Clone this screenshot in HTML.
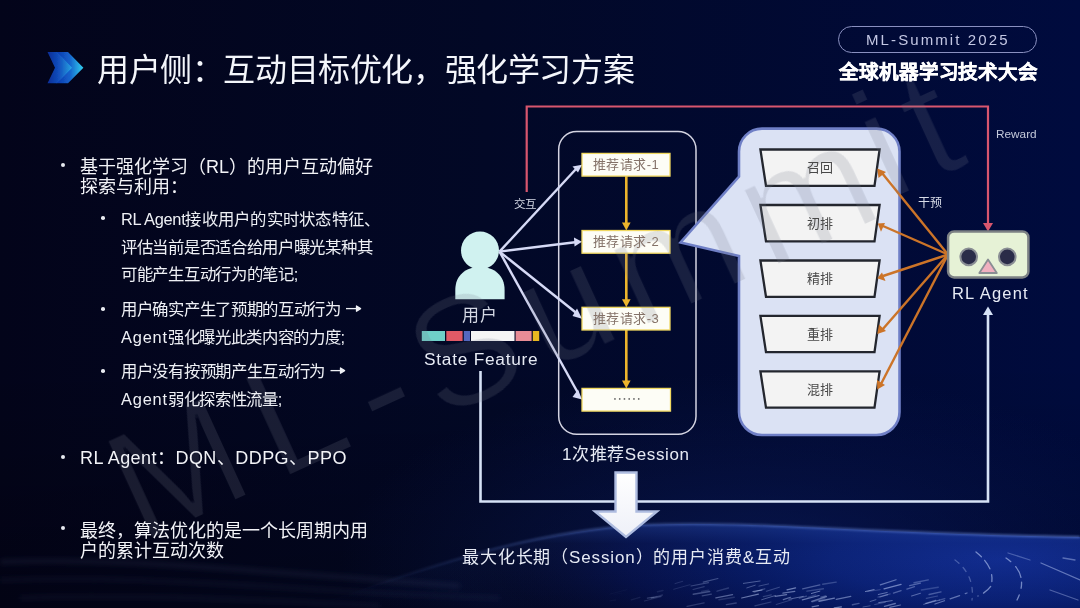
<!DOCTYPE html>
<html lang="zh-CN"><head><meta charset="utf-8">
<style>
*{margin:0;padding:0;box-sizing:border-box}
html,body{width:1080px;height:608px;overflow:hidden;background:#02041a}
body{position:relative;font-family:"Liberation Sans",sans-serif;color:#fff;-webkit-font-smoothing:antialiased}
.t{will-change:transform}
#bg{position:absolute;left:0;top:0}
.t{position:absolute;white-space:nowrap;line-height:1}
#title{left:96.5px;top:54.4px;font-size:32px;color:#f4f6fb;letter-spacing:-0.4px}
.b1{font-size:18px;color:#f2f3f7}
.b2{font-size:16.4px;color:#eef0f5;letter-spacing:-0.3px}
.dot{position:absolute;width:4px;height:4px;border-radius:50%;background:#e8eaf0}
#pill{position:absolute;left:838px;top:26px;width:199px;height:27px;border:1px solid #8a90c0;border-radius:14px}
#pilltxt{left:865.5px;top:32.4px;font-size:15px;color:#c4c8e4;letter-spacing:2.1px}
#conf{left:838.5px;top:62.6px;font-size:19.5px;font-weight:bold;color:#fff;letter-spacing:-0.1px;-webkit-text-stroke:0.45px #fff}
.dg{color:#e6eaf4}
</style></head>
<body>
<svg id="bg" width="1080" height="608" viewBox="0 0 1080 608">
<defs>
<linearGradient id="gH" x1="0" y1="0" x2="1" y2="0">
<stop offset="0" stop-color="#03041a"/>
<stop offset="0.45" stop-color="#020826"/>
<stop offset="1" stop-color="#000b3e"/>
</linearGradient>
<linearGradient id="gV" x1="0" y1="0" x2="0" y2="1">
<stop offset="0" stop-color="#000" stop-opacity="0"/>
<stop offset="0.6" stop-color="#000" stop-opacity="0"/>
<stop offset="1" stop-color="#000" stop-opacity="0.25"/>
</linearGradient>
<linearGradient id="gPlanetH" gradientUnits="userSpaceOnUse" x1="330" y1="0" x2="1080" y2="0">
<stop offset="0" stop-color="#061658" stop-opacity="0"/>
<stop offset="0.3" stop-color="#061858" stop-opacity="0.9"/>
<stop offset="0.63" stop-color="#061860"/>
<stop offset="1" stop-color="#0c2480"/>
</linearGradient>
<radialGradient id="gPlanetR" gradientUnits="userSpaceOnUse" cx="1000" cy="560" r="560" gradientTransform="translate(1000 560) scale(1 0.232) translate(-1000 -560)">
<stop offset="0" stop-color="#102a8c"/>
<stop offset="0.3" stop-color="#0a2074"/>
<stop offset="0.45" stop-color="#061860"/>
<stop offset="0.67" stop-color="#050f46" stop-opacity="0.9"/>
<stop offset="0.9" stop-color="#03061e" stop-opacity="0.3"/>
<stop offset="1" stop-color="#03061e" stop-opacity="0"/>
</radialGradient>
<linearGradient id="gPlanetV" gradientUnits="userSpaceOnUse" x1="0" y1="522" x2="0" y2="608">
<stop offset="0" stop-color="#3058c0" stop-opacity="0.4"/>
<stop offset="0.25" stop-color="#2a50b0" stop-opacity="0.08"/>
<stop offset="1" stop-color="#2a50b0" stop-opacity="0"/>
</linearGradient>
<radialGradient id="gGlow" gradientUnits="userSpaceOnUse" cx="760" cy="560" r="420" gradientTransform="translate(760 560) scale(1 0.45) translate(-760 -560)">
<stop offset="0" stop-color="#0c1f6a" stop-opacity="0.55"/>
<stop offset="0.6" stop-color="#0a1a5a" stop-opacity="0.25"/>
<stop offset="1" stop-color="#0a1a5a" stop-opacity="0"/>
</radialGradient>
<linearGradient id="gHz" gradientUnits="userSpaceOnUse" x1="360" y1="0" x2="1080" y2="0">
<stop offset="0" stop-color="#5a78c8" stop-opacity="0"/>
<stop offset="0.3" stop-color="#5a78c8" stop-opacity="0.5"/>
<stop offset="1" stop-color="#6a88d8" stop-opacity="0.7"/>
</linearGradient>
<filter id="blur3" x="-5%" y="-100%" width="110%" height="300%"><feGaussianBlur stdDeviation="2.5"/></filter>
<filter id="blur1" x="-5%" y="-50%" width="110%" height="200%"><feGaussianBlur stdDeviation="1.2"/></filter>
<linearGradient id="gChev1" gradientUnits="userSpaceOnUse" x1="46" y1="0" x2="72" y2="0">
<stop offset="0" stop-color="#0a2a9a"/>
<stop offset="0.5" stop-color="#1456cc"/>
<stop offset="1" stop-color="#2ab0f0"/>
</linearGradient>
<linearGradient id="gChev2" gradientUnits="userSpaceOnUse" x1="58" y1="0" x2="84" y2="0">
<stop offset="0" stop-color="#0e3cb0"/>
<stop offset="0.45" stop-color="#1462cc"/>
<stop offset="1" stop-color="#34d4f0"/>
</linearGradient>
<filter id="blurC" x="-20%" y="-20%" width="140%" height="140%"><feGaussianBlur stdDeviation="0.7"/></filter>
<linearGradient id="gArrow" x1="0" y1="0" x2="0" y2="1">
<stop offset="0" stop-color="#ffffff"/>
<stop offset="1" stop-color="#eef0f8"/>
</linearGradient>
</defs>
<rect width="1080" height="608" fill="url(#gH)"/>
<rect width="1080" height="608" fill="url(#gV)"/>
<rect width="1080" height="608" fill="url(#gGlow)"/>
<!-- planet horizon -->
<path d="M330,600 C430,566 540,531 640,525 C760,520 860,534 1080,537 L1080,608 L330,608 Z" fill="url(#gPlanetR)"/>
<path d="M330,600 C430,566 540,531 640,525 C760,520 860,534 1080,537 L1080,608 L330,608 Z" fill="url(#gPlanetV)"/>
<path d="M360,590 C450,560 540,531 640,525 C760,520 860,534 1080,537" fill="none" stroke="url(#gHz)" stroke-width="2" filter="url(#blur1)"/>
<g fill="none" stroke="#4a5682" filter="url(#blur3)">
<path d="M0,562 C90,558 190,566 300,574 C360,578 400,582 460,586" stroke-width="5" stroke-opacity="0.16"/>
<path d="M0,580 C120,576 220,584 330,590 C390,594 430,596 500,598" stroke-width="4" stroke-opacity="0.13"/>
<path d="M20,598 C140,594 260,600 380,606" stroke-width="4" stroke-opacity="0.13"/>
</g>
<g stroke="#c8d8ff" stroke-width="1.3" stroke-linecap="round" fill="none">
<path d="M811.8,601.3 l14.6,-4.6" stroke-opacity="0.46" stroke-width="1.4"/>
<path d="M609.9,594.1 l16.7,-4.3" stroke-opacity="0.03" stroke-width="1.0"/>
<path d="M726.4,604.6 l9.8,-1.6" stroke-opacity="0.24" stroke-width="1.4"/>
<path d="M673.7,589.3 l16.3,-4.6" stroke-opacity="0.13" stroke-width="1.0"/>
<path d="M647.2,598.1 l6.6,-0.9" stroke-opacity="0.16" stroke-width="1.0"/>
<path d="M863.0,607.0 l7.1,-1.2" stroke-opacity="0.31" stroke-width="1.0"/>
<path d="M783.3,599.6 l7.3,-2.3" stroke-opacity="0.44" stroke-width="1.2"/>
<path d="M701.6,591.4 l7.1,-1.2" stroke-opacity="0.15" stroke-width="1.2"/>
<path d="M877.9,597.2 l12.3,-3.3" stroke-opacity="0.22" stroke-width="1.2"/>
<path d="M878.3,594.5 l8.9,-2.0" stroke-opacity="0.45" stroke-width="1.0"/>
<path d="M687.1,606.4 l17.0,-3.5" stroke-opacity="0.20" stroke-width="1.4"/>
<path d="M867.8,591.5 l12.4,-1.8" stroke-opacity="0.22" stroke-width="1.0"/>
<path d="M812.1,606.8 l6.4,-1.2" stroke-opacity="0.49" stroke-width="1.2"/>
<path d="M717.1,591.2 l11.4,-3.2" stroke-opacity="0.19" stroke-width="1.4"/>
<path d="M865.5,591.5 l8.6,-1.9" stroke-opacity="0.54" stroke-width="1.0"/>
<path d="M715.9,597.9 l16.6,-3.3" stroke-opacity="0.40" stroke-width="1.4"/>
<path d="M631.3,599.8 l8.6,-2.5" stroke-opacity="0.09" stroke-width="1.4"/>
<path d="M834.3,607.9 l7.0,-1.0" stroke-opacity="0.55" stroke-width="1.4"/>
<path d="M914.0,582.8 l14.3,-2.9" stroke-opacity="0.29" stroke-width="1.4"/>
<path d="M743.4,583.4 l16.7,-2.4" stroke-opacity="0.36" stroke-width="1.0"/>
<path d="M644.4,601.0 l16.8,-4.3" stroke-opacity="0.14" stroke-width="1.0"/>
<path d="M657.4,591.7 l5.6,-1.2" stroke-opacity="0.10" stroke-width="1.4"/>
<path d="M889.8,607.4 l10.6,-2.4" stroke-opacity="0.46" stroke-width="1.2"/>
<path d="M693.2,594.2 l16.5,-2.7" stroke-opacity="0.30" stroke-width="1.4"/>
<path d="M926.3,598.3 l11.3,-2.3" stroke-opacity="0.23" stroke-width="1.2"/>
<path d="M775.2,596.3 l11.4,-1.7" stroke-opacity="0.48" stroke-width="1.2"/>
<path d="M836.2,599.3 l14.6,-3.0" stroke-opacity="0.45" stroke-width="1.2"/>
<path d="M884.0,588.9 l17.1,-4.6" stroke-opacity="0.53" stroke-width="1.2"/>
<path d="M820.9,597.1 l5.0,-1.2" stroke-opacity="0.29" stroke-width="1.4"/>
<path d="M693.1,589.5 l11.1,-2.9" stroke-opacity="0.20" stroke-width="1.2"/>
<path d="M819.0,601.2 l15.4,-3.1" stroke-opacity="0.50" stroke-width="1.4"/>
<path d="M752.9,591.5 l9.2,-1.5" stroke-opacity="0.54" stroke-width="1.0"/>
<path d="M884.5,606.4 l10.8,-2.9" stroke-opacity="0.45" stroke-width="1.4"/>
<path d="M741.7,598.0 l16.7,-3.9" stroke-opacity="0.50" stroke-width="1.2"/>
<path d="M812.1,602.1 l12.8,-3.5" stroke-opacity="0.21" stroke-width="1.0"/>
<path d="M799.4,598.2 l7.1,-2.0" stroke-opacity="0.26" stroke-width="1.4"/>
<path d="M614.2,594.3 l7.9,-1.2" stroke-opacity="0.02" stroke-width="1.2"/>
<path d="M929.1,594.5 l11.9,-2.6" stroke-opacity="0.32" stroke-width="1.4"/>
<path d="M808.0,597.3 l7.7,-2.4" stroke-opacity="0.20" stroke-width="1.2"/>
<path d="M923.7,604.3 l15.7,-4.2" stroke-opacity="0.39" stroke-width="1.0"/>
<path d="M787.0,589.8 l8.6,-2.0" stroke-opacity="0.53" stroke-width="1.2"/>
<path d="M925.8,603.3 l10.0,-2.9" stroke-opacity="0.42" stroke-width="1.2"/>
<path d="M758.9,586.1 l9.7,-2.2" stroke-opacity="0.27" stroke-width="1.0"/>
<path d="M806.9,591.1 l16.5,-2.3" stroke-opacity="0.24" stroke-width="1.4"/>
<path d="M911.6,596.0 l8.8,-2.7" stroke-opacity="0.40" stroke-width="1.2"/>
<path d="M746.8,587.9 l8.4,-2.7" stroke-opacity="0.33" stroke-width="1.0"/>
<path d="M802.6,588.8 l17.3,-4.0" stroke-opacity="0.35" stroke-width="1.2"/>
<path d="M921.4,590.0 l16.9,-2.8" stroke-opacity="0.21" stroke-width="1.4"/>
<path d="M811.4,593.5 l8.5,-2.4" stroke-opacity="0.49" stroke-width="1.0"/>
<path d="M763.3,596.6 l8.0,-1.8" stroke-opacity="0.21" stroke-width="1.2"/>
<path d="M691.0,586.0 l17.5,-3.4" stroke-opacity="0.25" stroke-width="1.2"/>
<path d="M776.2,604.5 l15.7,-4.8" stroke-opacity="0.21" stroke-width="1.0"/>
<path d="M702.2,595.9 l9.2,-1.8" stroke-opacity="0.26" stroke-width="1.2"/>
<path d="M718.9,599.7 l15.4,-2.5" stroke-opacity="0.16" stroke-width="1.4"/>
<path d="M754.9,605.8 l16.1,-3.8" stroke-opacity="0.21" stroke-width="1.2"/>
<path d="M802.3,599.9 l16.8,-4.4" stroke-opacity="0.50" stroke-width="1.2"/>
<path d="M761.7,599.7 l13.7,-4.2" stroke-opacity="0.36" stroke-width="1.0"/>
<path d="M703.2,582.1 l14.7,-3.6" stroke-opacity="0.29" stroke-width="1.2"/>
<path d="M909.6,585.7 l10.9,-2.6" stroke-opacity="0.37" stroke-width="1.2"/>
<path d="M782.9,593.1 l11.9,-1.8" stroke-opacity="0.46" stroke-width="1.2"/>
<path d="M878.7,602.6 l13.5,-2.0" stroke-opacity="0.45" stroke-width="1.0"/>
<path d="M939.4,600.2 l5.4,-1.6" stroke-opacity="0.28" stroke-width="1.4"/>
<path d="M880.3,584.9 l15.8,-5.1" stroke-opacity="0.45" stroke-width="1.2"/>
<path d="M650.9,597.9 l10.2,-1.7" stroke-opacity="0.14" stroke-width="1.0"/>
<path d="M788.9,599.2 l14.4,-2.8" stroke-opacity="0.40" stroke-width="1.0"/>
<path d="M852.4,604.8 l6.6,-1.4" stroke-opacity="0.31" stroke-width="1.4"/>
<path d="M766.4,591.2 l12.9,-4.0" stroke-opacity="0.25" stroke-width="1.2"/>
<path d="M651.4,598.4 l11.1,-3.4" stroke-opacity="0.14" stroke-width="1.4"/>
<path d="M675.0,583.6 l7.7,-2.3" stroke-opacity="0.15" stroke-width="1.0"/>
<path d="M874.7,604.5 l10.7,-2.2" stroke-opacity="0.25" stroke-width="1.0"/>
<path d="M822.7,584.2 l13.5,-2.1" stroke-opacity="0.24" stroke-width="1.4"/>
<path d="M754.2,592.1 l10.5,-3.3" stroke-opacity="0.24" stroke-width="1.4"/>
<path d="M610.0,600.9 l5.6,-0.9" stroke-opacity="0.04" stroke-width="1.4"/>
<path d="M870.1,601.5 l5.8,-1.8" stroke-opacity="0.37" stroke-width="1.0"/>
<path d="M647.5,598.2 l9.4,-1.7" stroke-opacity="0.10" stroke-width="1.4"/>
<path d="M976,552 Q996,568 991,586 Q987,592 978,596" stroke-opacity="0.55" stroke-dasharray="7 5 10 6"/>
<path d="M1006,558 Q1030,574 1017,600" stroke-opacity="0.55" stroke-dasharray="6 7 12 5"/>
<path d="M1041,563 L1080,580" stroke-opacity="0.45"/>
<path d="M1063,558 L1075,560" stroke-opacity="0.4"/>
<path d="M1008,553 L1030,560" stroke-opacity="0.3"/>
<path d="M935,604 L967,593" stroke-opacity="0.45" stroke-dasharray="10 6"/>
<path d="M880,597 L917,586" stroke-opacity="0.35" stroke-dasharray="8 6"/>
<path d="M955,560 Q975,575 972,600" stroke-opacity="0.3" stroke-dasharray="5 6"/>
<path d="M1050,590 L1078,600" stroke-opacity="0.35"/>
</g>
<!-- chevrons -->
<g filter="url(#blurC)"><path d="M56.5,52 L68,52 L83.4,67.7 L68,83.2 L56.5,83.2 L71,67.7 Z" fill="url(#gChev2)"/>
<path d="M47.5,52 L57,52 L72,67.7 L57,83.2 L47.5,83.2 L55,67.7 Z" fill="url(#gChev1)" fill-opacity="0.92"/></g>

<!-- red reward line -->
<path d="M526.7,192 V106.5 H988 V226" fill="none" stroke="#d8566e" stroke-width="2.2"/>
<path d="M983,223 L988,231.5 L993,223 Z" fill="#d8566e"/>

<!-- session rect -->
<rect x="558.7" y="131.5" width="137.3" height="302.7" rx="18" fill="none" stroke="#d4d4e2" stroke-width="1.5"/>

<!-- white lines from user -->
<g stroke="#d6daf6" stroke-width="2.4" fill="none">
<path d="M499.5,251.6 L576,169"/>
<path d="M499.5,251.6 L575,242.3"/>
<path d="M499.5,251.6 L577,313.5"/>
<path d="M499.5,251.6 L578,393"/>
</g>
<g fill="#d6daf6">
<path d="M582,164.8 L572.5,166.5 L578,172.5 Z"/>
<path d="M582,241.7 L574,237.5 L574.5,246.5 Z"/>
<path d="M582,318.7 L572.5,316 L577,308.5 Z" transform="rotate(0)"/>
<path d="M582,399.5 L572.5,397 L578,389.5 Z"/>
</g>

<!-- gold arrows -->
<g stroke="#ecb42c" stroke-width="2.6" fill="none">
<path d="M626.3,176.2 V224"/>
<path d="M626.3,253.2 V301"/>
<path d="M626.3,330 V382"/>
</g>
<g fill="#ecb42c">
<path d="M622,222.5 L626.3,230.5 L630.6,222.5 Z"/>
<path d="M622,299.3 L626.3,307.3 L630.6,299.3 Z"/>
<path d="M622,380.4 L626.3,388.4 L630.6,380.4 Z"/>
</g>

<!-- request boxes -->
<g fill="#fdfdf6" stroke="#f0d860" stroke-width="1.3">
<rect x="582" y="153.4" width="88" height="22.7"/>
<rect x="582" y="230.5" width="88" height="22.7"/>
<rect x="582" y="307.3" width="88" height="22.7"/>
<rect x="582" y="388.4" width="88.5" height="22.7"/>
</g>

<g><rect x="614.20" y="398.2" width="1.5" height="1.5" fill="#555"/><rect x="618.95" y="398.2" width="1.5" height="1.5" fill="#555"/><rect x="623.70" y="398.2" width="1.5" height="1.5" fill="#555"/><rect x="628.45" y="398.2" width="1.5" height="1.5" fill="#555"/><rect x="633.20" y="398.2" width="1.5" height="1.5" fill="#555"/><rect x="637.95" y="398.2" width="1.5" height="1.5" fill="#555"/></g>
<!-- callout -->
<path d="M762,128.6 H876.5 A23,23 0 0 1 899.5,151.6 V412 A23,23 0 0 1 876.5,435 H762 A23,23 0 0 1 739,412 V256 L680.5,242.4 L739,176.6 V151.6 A23,23 0 0 1 762,128.6 Z" fill="#dbe2f4" stroke="#6f7fc6" stroke-width="2.6"/>

<!-- trapezoids -->
<g fill="#f3f3f3" stroke="#23262e" stroke-width="2.3" stroke-linejoin="miter">
<path d="M760.4,149.5 H879.6 L874.5,185.8 H766 Z"/>
<path d="M760.4,205 H879.6 L874.5,241.3 H766 Z"/>
<path d="M760.4,260.5 H879.6 L874.5,296.8 H766 Z"/>
<path d="M760.4,315.9 H879.6 L874.5,352.2 H766 Z"/>
<path d="M760.4,371.3 H879.6 L874.5,407.6 H766 Z"/>
</g>

<!-- orange arrows -->
<g stroke="#cc7428" stroke-width="2.4" fill="none">
<path d="M948,254.5 L882,173"/>
<path d="M948,254.5 L883,226"/>
<path d="M948,254.5 L883,276"/>
<path d="M948,254.5 L882,330"/>
<path d="M948,254.5 L881,384"/>
</g>
<g fill="#cc7428">
<path d="M877.3,168.5 L878.5,178 L886,172 Z"/>
<path d="M877.8,223.6 L881,231.8 L885,223 Z"/>
<path d="M877.3,278.3 L885.5,281 L882,272.5 Z"/>
<path d="M877.3,334 L886,331 L879,324.5 Z"/>
<path d="M877.3,389.5 L885,385 L877,380 Z"/>
</g>

<!-- RL agent -->
<rect x="948.1" y="231.4" width="80.3" height="46" rx="6" fill="#e6f2d6" stroke="#7c8184" stroke-width="2.5"/>
<circle cx="968.7" cy="256.9" r="8.3" fill="#2a2c48" stroke="#8a8e94" stroke-width="2"/>
<circle cx="1007.3" cy="256.9" r="8.3" fill="#2a2c48" stroke="#8a8e94" stroke-width="2"/>
<path d="M979.3,273 L996.8,273 L988,259.5 Z" fill="#f0b0c0" stroke="#8a8e94" stroke-width="1.8" stroke-linejoin="round"/>

<!-- user icon -->
<path d="M455.3,299.3 L455.3,290 C455.3,275 466,267 480,267 C494,267 504.6,275 504.6,290 L504.6,299.3 Z" fill="#d0f2f0"/>
<circle cx="480" cy="250.5" r="19" fill="#d0f2f0"/>

<!-- color bar -->
<rect x="421.8" y="331" width="23.2" height="10" fill="#6fd0c8"/>
<rect x="446.3" y="331" width="16.3" height="10" fill="#e05a66"/>
<rect x="463.8" y="331" width="6.2" height="10" fill="#5468c0"/>
<rect x="471" y="331" width="43.5" height="10" fill="#f5f5f5"/>
<rect x="515.6" y="331" width="16" height="10" fill="#e88c96"/>
<rect x="532.8" y="331" width="6.4" height="10" fill="#e8b820"/>

<!-- bottom white loop -->
<path d="M480.5,371 V501.5 H988 V314" fill="none" stroke="#d6e2f6" stroke-width="2.6"/>
<path d="M983,315 L988,306.5 L993,315 Z" fill="#d6e2f6"/>

<!-- big arrow -->
<path d="M615.5,472.5 H636.5 V511.5 H657 L626,537 L595,511.5 H615.5 Z" fill="url(#gArrow)" stroke="#aebce0" stroke-width="2.4" stroke-linejoin="miter"/>
<!-- text arrows -->
<g stroke="#eef0f5" stroke-width="1.3" fill="#eef0f5" stroke-linejoin="round"><path d="M346,308.6 H358" fill="none"/><path d="M356.5,306 L360.6,308.6 L356.5,311.2 Z"/><path d="M330.5,370.6 H342" fill="none"/><path d="M340.5,368 L344.6,370.6 L340.5,373.2 Z"/></g>
</svg>

<svg id="wm" width="1080" height="608" style="position:absolute;left:0;top:0"><defs><filter id="thin"><feMorphology operator="erode" radius="1.3"/></filter></defs><g transform="translate(147.7,540.6) rotate(-24.63)" font-family="Liberation Sans" font-size="155.8" letter-spacing="13.76" fill="#74788e" fill-opacity="0.2" filter="url(#thin)"><text x="-8" y="0">M</text><text x="143.5" y="0">L<tspan dx="6" dy="12">-Summ</tspan><tspan dx="-6" dy="-12">it</tspan></text></g></svg>
<!-- Header -->
<div class="t" id="title">用户侧：互动目标优化，强化学习方案</div>
<div id="pill"></div>
<div class="t" id="pilltxt">ML-Summit 2025</div>
<div class="t" id="conf">全球机器学习技术大会</div>

<!-- Bullets -->
<div class="dot" style="left:60.6px;top:162.8px;width:4.5px;height:4.5px"></div>
<div class="t b1" style="left:80px;top:157.8px">基于强化学习（RL）的用户互动偏好</div>
<div class="t b1" style="left:80px;top:178px">探索与利用：</div>

<div class="dot" style="left:101.3px;top:216.2px;width:3.6px;height:3.6px"></div>
<div class="t b2" style="left:121px;top:211px">RL Agent<span style="letter-spacing:0.25px">接收用户的实时状态特征、</span></div>
<div class="t b2" style="left:121px;top:239px">评估当前是否适合给用户曝光某种其</div>
<div class="t b2" style="left:121px;top:266px">可能产生互动行为的笔记;</div>
<div class="dot" style="left:101.1px;top:307.4px;width:3.6px;height:3.6px"></div>
<div class="t b2" style="left:121px;top:301px">用户确实产生了预期的互动行为</div>
<div class="t b2" style="left:121px;top:328.5px"><span style="letter-spacing:0.8px">Agent</span>强化曝光此类内容的力度;</div>
<div class="dot" style="left:101.1px;top:369.2px;width:3.6px;height:3.6px"></div>
<div class="t b2" style="left:121px;top:363px">用户没有按预期产生互动行为</div>
<div class="t b2" style="left:121px;top:390.5px"><span style="letter-spacing:0.8px">Agent</span>弱化探索性流量;</div>

<div class="dot" style="left:60.8px;top:454.7px"></div>
<div class="t b1" style="left:80px;top:448.5px;letter-spacing:0.45px">RL Agent：DQN、DDPG、PPO</div>

<div class="dot" style="left:60.8px;top:525.5px"></div>
<div class="t b1" style="left:80px;top:521.5px">最终，算法优化的是一个长周期内用</div>
<div class="t b1" style="left:80px;top:541.5px">户的累计互动次数</div>

<!-- Diagram text -->
<div class="t" style="left:514px;top:198.5px;font-size:11.5px;color:#d8dce8;font-weight:300">交互</div>
<div class="t" style="left:995.5px;top:128.5px;font-size:11.8px;color:#c4cadb">Reward</div>
<div class="t" style="left:917.5px;top:196.5px;font-size:12px;color:#d8dce8;font-weight:300">干预</div>
<div class="t" style="left:593px;top:157.5px;font-size:13px;color:#847268;letter-spacing:0.45px;font-weight:300">推荐请求-1</div>
<div class="t" style="left:593px;top:234.5px;font-size:13px;color:#847268;letter-spacing:0.45px;font-weight:300">推荐请求-2</div>
<div class="t" style="left:593px;top:311.5px;font-size:13px;color:#847268;letter-spacing:0.45px;font-weight:300">推荐请求-3</div>

<div class="t" style="left:807px;top:161px;font-size:13px;color:#484848">召回</div>
<div class="t" style="left:807px;top:216.5px;font-size:13px;color:#484848">初排</div>
<div class="t" style="left:807px;top:272px;font-size:13px;color:#484848">精排</div>
<div class="t" style="left:807px;top:327.5px;font-size:13px;color:#484848">重排</div>
<div class="t" style="left:807px;top:383px;font-size:13px;color:#484848">混排</div>
<div class="t dg" style="left:952px;top:284.5px;font-size:16.5px;letter-spacing:1.2px">RL Agent</div>
<div class="t" style="left:462px;top:307px;font-size:17px;color:#d4d8e4;font-weight:300;letter-spacing:1.4px">用户</div>
<div class="t dg" style="left:424px;top:350.5px;font-size:17.3px;letter-spacing:0.75px">State Feature</div>
<div class="t dg" style="left:562px;top:446px;font-size:17px;letter-spacing:0.6px;font-weight:300">1次推荐Session</div>
<div class="t dg" style="left:462px;top:548.5px;font-size:17px;letter-spacing:0.85px;font-weight:300">最大化长期（Session）的用户消费&amp;互动</div>
</body></html>
